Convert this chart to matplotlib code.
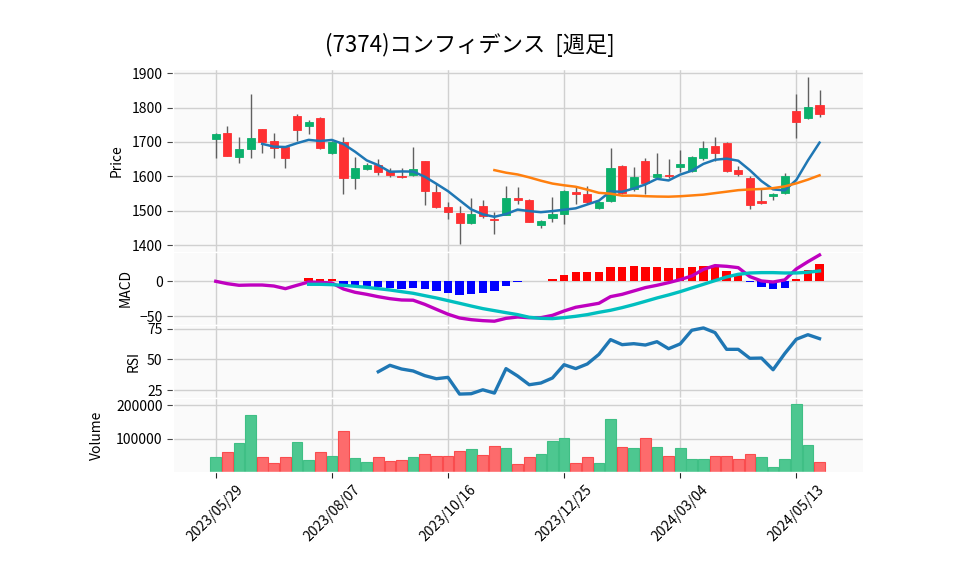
import matplotlib
matplotlib.use('Agg')
import matplotlib.pyplot as plt
import numpy as np
import pandas as pd

plt.rcParams['font.family'] = ['Noto Sans CJK JP', 'DejaVu Sans']
plt.rcParams['axes.unicode_minus'] = True

TITLE = '(7374)コンフィデンス  [週足]'
START = '2023-05-29'

# weekly OHLC
OPEN = [1708, 1726, 1657, 1680, 1737, 1702, 1684, 1775, 1745, 1769,
        1668, 1699, 1594, 1620, 1633, 1615, 1602, 1603, 1644, 1554,
        1510, 1493, 1465, 1513, 1477, 1489, 1537, 1531, 1459, 1479,
        1491, 1554, 1550, 1508, 1529, 1630, 1562, 1645, 1597, 1605,
        1628, 1615, 1654, 1688, 1696, 1618, 1595, 1527, 1544, 1553,
        1790, 1770, 1807]
HIGH = [1725, 1746, 1713, 1838, 1737, 1725, 1686, 1780, 1763, 1772,
        1704, 1713, 1655, 1640, 1649, 1625, 1623, 1684, 1646, 1579,
        1526, 1513, 1536, 1531, 1497, 1573, 1568, 1533, 1472, 1540,
        1560, 1568, 1571, 1527, 1681, 1633, 1628, 1652, 1669, 1649,
        1678, 1658, 1702, 1713, 1700, 1630, 1600, 1565, 1552, 1611,
        1838, 1888, 1851]
LOW = [1652, 1658, 1640, 1652, 1669, 1652, 1623, 1702, 1722, 1680,
       1665, 1550, 1562, 1618, 1605, 1598, 1596, 1600, 1516, 1508,
       1475, 1403, 1462, 1478, 1432, 1487, 1519, 1466, 1449, 1468,
       1461, 1519, 1520, 1505, 1525, 1550, 1558, 1548, 1595, 1595,
       1613, 1612, 1648, 1644, 1614, 1600, 1504, 1520, 1532, 1550,
       1710, 1768, 1773]
CLOSE = [1723, 1660, 1679, 1710, 1700, 1683, 1654, 1735, 1758, 1683,
         1699, 1594, 1624, 1632, 1613, 1604, 1598, 1622, 1558, 1510,
         1497, 1465, 1490, 1486, 1474, 1537, 1530, 1468, 1470, 1490,
         1557, 1550, 1524, 1526, 1624, 1552, 1598, 1582, 1608, 1600,
         1637, 1655, 1681, 1668, 1616, 1607, 1517, 1523, 1548, 1601,
         1758, 1801, 1782]
VOLUME = [46000, 60000, 88000, 172000, 46000, 28000, 46000, 91000, 37000, 60000,
          49000, 124000, 43000, 31000, 46000, 34000, 37000, 46000, 55000, 49000,
          49000, 64000, 70000, 52000, 79000, 73000, 25000, 46000, 55000, 94000,
          103000, 28000, 46000, 28000, 160000, 76000, 73000, 103000, 76000, 49000,
          73000, 40000, 40000, 49000, 49000, 40000, 55000, 46000, 16000, 40000,
          205000, 82000, 31000]

# indicator panels (NaN = not drawn yet)
NA = np.nan
MACD = [0, -3.4, -5.7, -5.3, -5.3, -6.7, -10.5, -5.7, -1, -1.5,
        -2.4, -11, -15.7, -18.6, -22, -24.8, -26.7, -27, -32.9, -40,
        -47, -52.4, -54.8, -56.2, -57, -52.9, -51, -52, -52, -48.6,
        -42.4, -37.1, -34.3, -31.4, -21.9, -18.6, -13.8, -9, -5.7, -1.9,
        2.4, 7.6, 17, 22.4, 21.4, 19.5, 6.7, 0.5, -1, 2,
        17.6, 28, 37.6]
SIGNAL = [NA] * 8 + [
    -4.3, -4.3, -4.8, -5.7, -7.1, -8.6, -10.5, -12.4, -14.8, -17.1,
    -20.5, -23.8, -27.6, -31.4, -35.3, -39, -41.9, -44.8, -47.6, -51.4,
    -52.9, -53.3, -51.9, -50, -47.6, -44.3, -41.4, -37.6, -33.3, -28.6,
    -23.8, -19.5, -14.8, -9.5, -4.3, 1, 6.2, 10, 11.9, 12.4,
    12.4, 11.9, 11.9, 12.9, 14.8]
HIST = [NA] * 8 + [
    4.3, 2.9, 2.9, -4.3, -4.8, -6.2, -8.1, -9, -11, -9,
    -10.5, -13.8, -17.1, -19, -17.6, -16.7, -13.3, -6.2, -1, 0,
    0.3, 3.3, 9.5, 13.3, 13.3, 13.3, 20.5, 20.5, 21.9, 20.5,
    20.5, 19, 19, 20.5, 21.9, 21.9, 14.8, 9, -0.7, -7.6,
    -10.5, -9, 3.3, 16.2, 24.8]
RSI = [NA] * 14 + [
    39.9, 45.1, 42.1, 40.5, 36.7, 34.2, 35.3, 21.7, 22, 25.2,
    22.5, 42.4, 36.4, 29.3, 30.7, 34.8, 45.6, 42.4, 46.2, 54,
    66, 61.9, 62.7, 61.6, 64.3, 58.6, 62.5, 73.6, 75.5, 71.7,
    58.1, 58.1, 50.8, 51, 41.5, 54.6, 66.3, 70, 66.8]

# colours (yahoo-like)
UP, DOWN = '#0bb06c', '#fe3032'
VUP, VDOWN = '#4dc790', '#fd6b6c'
BG = '#fafafa'
GRID = '#d0d0d0'

df = pd.DataFrame({'Open': OPEN, 'High': HIGH, 'Low': LOW, 'Close': CLOSE, 'Volume': VOLUME},
                  index=pd.date_range(START, periods=len(CLOSE), freq='7D'))
n = len(df)
x = np.arange(n)
ma5 = df['Close'].rolling(5).mean()
ma25 = df['Close'].rolling(25).mean()

fig = plt.figure(figsize=(9.58, 5.75), dpi=100)
L, W = 0.1806, 0.7203
ax_p = fig.add_axes([L, 0.5617, W, 0.3183])
ax_m = fig.add_axes([L, 0.4348, W, 0.1270], sharex=ax_p)
ax_r = fig.add_axes([L, 0.3078, W, 0.1270], sharex=ax_p)
ax_v = fig.add_axes([L, 0.1791, W, 0.1287], sharex=ax_p)
axes = [ax_p, ax_m, ax_r, ax_v]

# ── price ──
o, c = df['Open'].values, df['Close'].values
cols = [UP if cc >= oo else DOWN for oo, cc in zip(o, c)]
ax_p.vlines(x, df['Low'], df['High'], color='#606060', lw=1, zorder=2)
ax_p.bar(x, c - o, bottom=o, width=0.7, color=cols, edgecolor=cols, lw=0.6, zorder=3)
ax_p.plot(x, ma5, color='#1f77b4', lw=1.8, zorder=4)
ax_p.plot(x, ma25, color='#ff7f0e', lw=1.8, zorder=4)
ax_p.set_ylim(1380, 1912)
ax_p.set_yticks([1400, 1500, 1600, 1700, 1800, 1900])
ax_p.set_ylabel('Price', labelpad=6)

# ── MACD ──
hist = np.array(HIST, dtype=float)
hcols = ['red' if h >= 0 else 'blue' for h in np.nan_to_num(hist)]
ax_m.bar(x, hist, width=0.72, color=hcols, zorder=2)
ax_m.plot(x, MACD, color='#bf00bf', lw=2.4, zorder=3)
ax_m.plot(x, SIGNAL, color='#00bfbf', lw=2.4, zorder=4)
ax_m.set_ylim(-62.4, 41.9)
ax_m.set_yticks([-50, 0])
ax_m.set_ylabel('MACD', labelpad=5)

# ── RSI ──
ax_r.plot(x, RSI, color='#1f77b4', lw=2.4, zorder=3)
ax_r.set_ylim(18.5, 77.9)
ax_r.set_yticks([25, 50, 75])
ax_r.set_ylabel('RSI', labelpad=5)

# ── volume ──
vcols = [VUP if d >= 0 else VDOWN for d in df['Close'].diff().fillna(0)]
vedge = ['#3fbf85' if cc == VUP else '#fa4c4e' for cc in vcols]
ax_v.bar(x, df['Volume'], width=0.92, color=vcols, edgecolor=vedge, lw=0.8, zorder=2)
ax_v.set_ylim(0, 222000)
ax_v.set_yticks([100000, 200000])
ax_v.ticklabel_format(style='plain', axis='y')
ax_v.set_ylabel('Volume', labelpad=9)

ticks = x[::10]
ax_v.set_xticks(ticks)
ax_v.set_xticklabels([df.index[i].strftime('%Y/%m/%d') for i in ticks], rotation=45, fontsize=10)
ax_v.set_xlim(-3.68, 55.75)

for ax in axes:
    ax.set_facecolor(BG)
    ax.set_axisbelow(True)
    ax.grid(True, color=GRID, lw=1.0)
    for s in ax.spines.values():
        s.set_color('white')
        s.set_linewidth(1.0)
    ax.tick_params(axis='y', labelsize=10, length=4, color='#444444')
    ax.yaxis.label.set_size(10)
for ax in axes[:-1]:
    ax.tick_params(axis='x', labelbottom=False, length=0)
ax_v.tick_params(axis='x', length=4, color='#222222')

fig.text(0.49, 0.922, TITLE, ha='center', va='center', fontsize=16)

fig.savefig('out.png', dpi=100, facecolor='white')
